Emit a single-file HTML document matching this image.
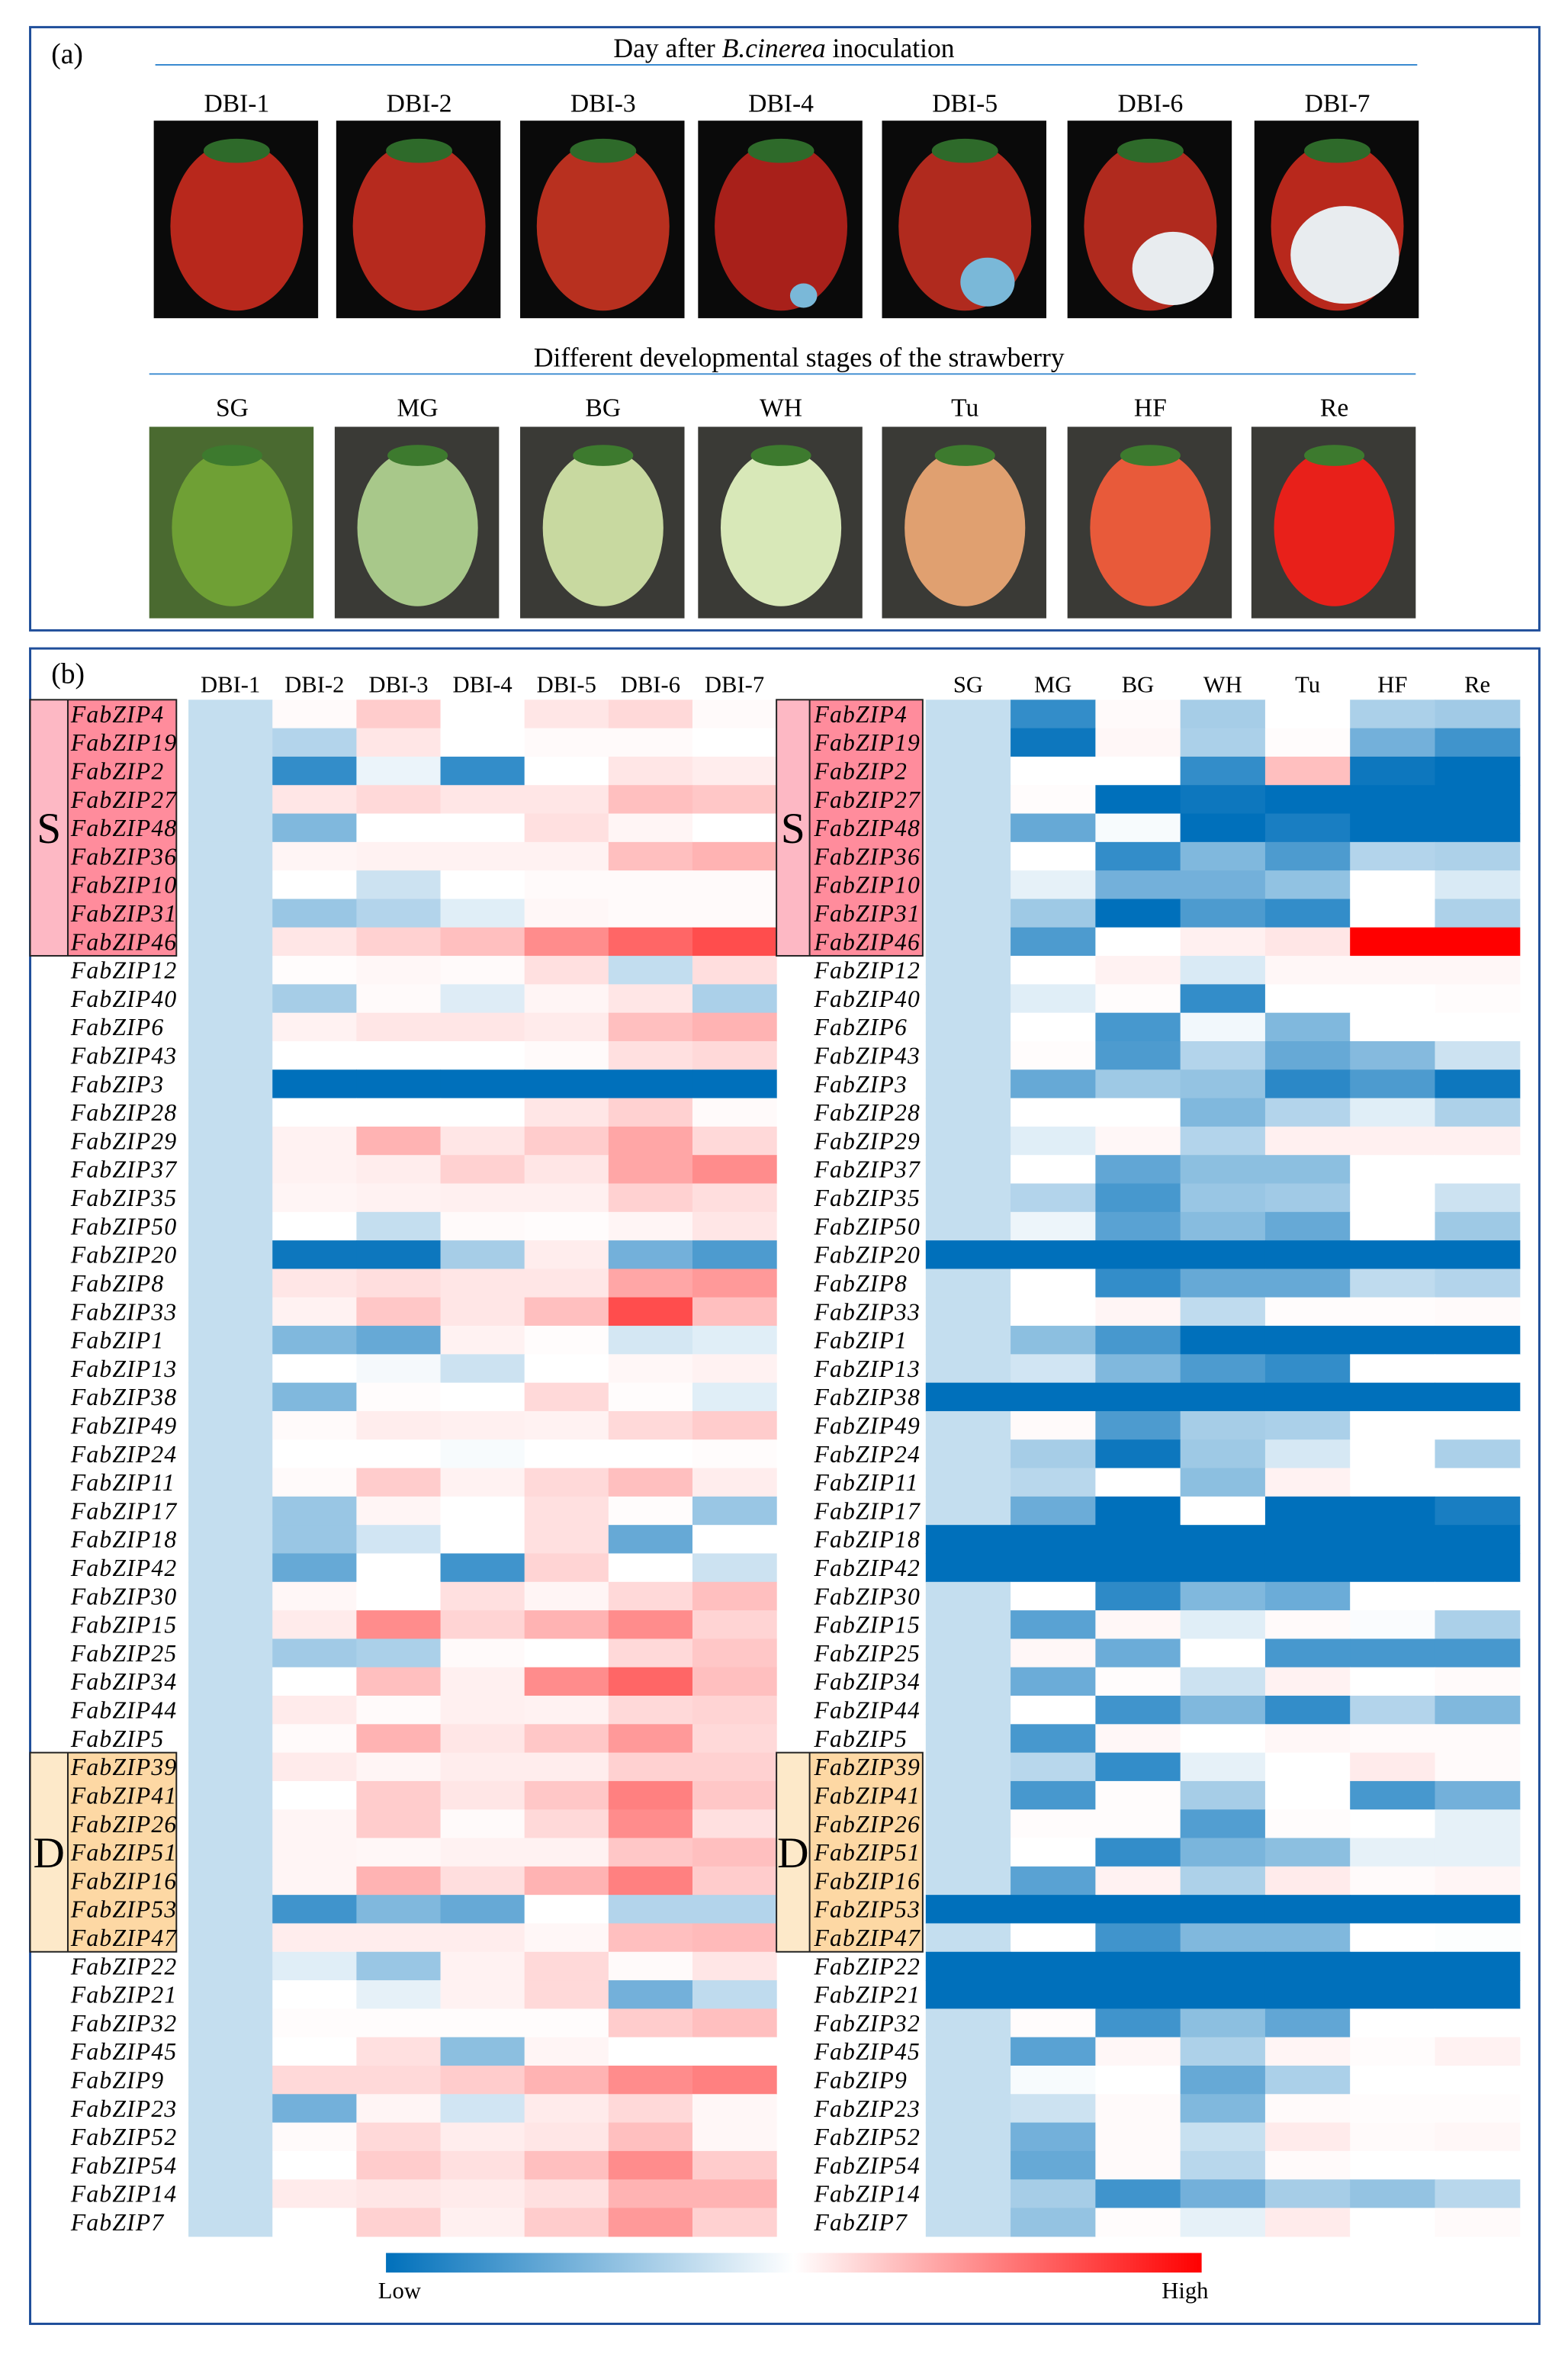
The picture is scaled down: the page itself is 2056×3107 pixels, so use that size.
<!DOCTYPE html>
<html><head><meta charset="utf-8">
<style>
html,body{margin:0;padding:0;background:#fff;}
svg{display:block;}
svg text{font-family:"Liberation Serif","Times New Roman",serif;}
</style></head>
<body>
<svg id="fig" width="2056" height="3107" viewBox="0 0 1040 1571.6" xmlns="http://www.w3.org/2000/svg" font-family="Liberation Serif, serif">
  <rect x="20" y="18" width="1001" height="400" fill="none" stroke="#1f4e9a" stroke-width="1.5"/>
  <text x="34" y="42" font-size="19">(a)</text>
  <text x="520" y="38" font-size="18" text-anchor="middle">Day after <tspan font-style="italic">B.cinerea</tspan> inoculation</text>
  <line x1="103" y1="43" x2="940" y2="43" stroke="#3a8ad0" stroke-width="1"/>
  <text x="530" y="243" font-size="18" text-anchor="middle">Different developmental stages of the strawberry</text>
  <line x1="99" y1="248" x2="939" y2="248" stroke="#3a8ad0" stroke-width="1"/>
  <g id="photos"></g>

  <rect x="20" y="430" width="1001" height="1111" fill="none" stroke="#1f4e9a" stroke-width="1.5"/>
  <text x="34" y="453" font-size="19">(b)</text>
  <g id="heat"></g>

  <defs><linearGradient id="cbar" x1="0" x2="1" y1="0" y2="0">
    <stop offset="0" stop-color="#0070bb"/><stop offset="0.5" stop-color="#ffffff"/><stop offset="1" stop-color="#ff0000"/>
  </linearGradient></defs>
  <rect x="256" y="1494" width="541" height="13" fill="url(#cbar)"/>
  <text x="265" y="1524" font-size="15.5" text-anchor="middle">Low</text>
  <text x="786" y="1524" font-size="15.5" text-anchor="middle">High</text>
</svg>
<script>
const genes=["FabZIP4","FabZIP19","FabZIP2","FabZIP27","FabZIP48","FabZIP36","FabZIP10","FabZIP31","FabZIP46","FabZIP12","FabZIP40","FabZIP6","FabZIP43","FabZIP3","FabZIP28","FabZIP29","FabZIP37","FabZIP35","FabZIP50","FabZIP20","FabZIP8","FabZIP33","FabZIP1","FabZIP13","FabZIP38","FabZIP49","FabZIP24","FabZIP11","FabZIP17","FabZIP18","FabZIP42","FabZIP30","FabZIP15","FabZIP25","FabZIP34","FabZIP44","FabZIP5","FabZIP39","FabZIP41","FabZIP26","FabZIP51","FabZIP16","FabZIP53","FabZIP47","FabZIP22","FabZIP21","FabZIP32","FabZIP45","FabZIP9","FabZIP23","FabZIP52","FabZIP54","FabZIP14","FabZIP7"];
const infectionCols=["DBI-1","DBI-2","DBI-3","DBI-4","DBI-5","DBI-6","DBI-7"];
const stageCols=["SG","MG","BG","WH","Tu","HF","Re"];
const infectionValues=[
[-.23,.02,.2,0,.1,.15,.02],[-.23,-.3,.1,0,.02,.02,0],[-.23,-.8,-.08,-.8,0,.1,.07],[-.23,.1,.15,.1,.1,.25,.22],
[-.23,-.5,0,0,.12,.04,0],[-.23,.04,.05,.05,.05,.25,.3],[-.23,0,-.2,0,.02,.02,.02],[-.23,-.4,-.3,-.12,.03,.02,.02],
[-.23,.1,.18,.25,.45,.6,.7],[-.23,.01,.03,.02,.12,-.24,.13],[-.23,-.35,.02,-.13,.04,.1,-.33],[-.23,.05,.1,.1,.08,.25,.3],
[-.23,0,0,0,.02,.12,.15],[-.23,-1,-1,-1,-1,-1,-1],[-.23,0,0,0,.1,.18,.02],[-.23,.05,.3,.1,.2,.35,.15],
[-.23,.05,.07,.18,.1,.35,.45],[-.23,.04,.05,.06,.06,.18,.13],[-.23,0,-.23,.02,.01,.04,.1],[-.23,-.95,-.95,-.35,.07,-.55,-.7],
[-.23,.1,.13,.1,.1,.35,.4],[-.23,.05,.22,.1,.25,.7,.25],[-.23,-.5,-.6,.05,.01,-.17,-.12],[-.23,0,-.04,-.2,0,.03,.05],
[-.23,-.5,.01,0,.15,.01,-.12],[-.23,.02,.07,.06,.05,.15,.2],[-.23,0,0,-.03,0,0,.01],[-.23,.02,.2,.05,.15,.25,.07],
[-.23,-.4,.04,0,.12,.01,-.4],[-.23,-.4,-.18,0,.12,-.6,0],[-.23,-.6,0,-.75,.17,0,-.2],[-.23,.03,0,.12,.04,.15,.25],
[-.23,.08,.45,.17,.3,.45,.17],[-.23,-.37,-.33,.02,0,.15,.22],[-.23,0,.25,.06,.45,.6,.25],[-.23,.08,.02,.06,.05,.15,.17],
[-.23,.02,.3,.1,.22,.4,.15],[-.23,.08,.04,.07,.07,.18,.18],[-.23,0,.2,.1,.22,.5,.22],[-.23,.04,.2,.02,.15,.45,.12],
[-.23,.04,.03,.05,.05,.22,.25],[-.23,.04,.3,.13,.3,.5,.2],[-.23,-.75,-.5,-.6,0,-.3,-.3],[-.23,.07,.07,.07,.03,.25,.27],
[-.23,-.12,-.4,.05,.15,.02,.1],[-.23,0,-.1,.05,.15,-.55,-.25],[-.23,.01,.01,.01,.01,.2,.25],[-.23,0,.12,-.45,.04,0,0],
[-.23,.15,.15,.2,.3,.45,.5],[-.23,-.55,.04,-.18,.08,.15,.03],[-.23,.02,.15,.07,.1,.25,.03],[-.23,0,.2,.12,.25,.45,.2],
[-.23,.08,.1,.08,.12,.3,.3],[-.23,0,.18,.06,.2,.4,.18]];
const stageValues=[
[-.23,-.8,.02,-.35,0,-.33,-.37],[-.23,-.95,.03,-.33,.01,-.55,-.75],[-.23,0,0,-.8,.25,-.95,-1],[-.23,.01,-1,-.95,-1,-1,-1],
[-.23,-.6,-.03,-1,-.9,-1,-1],[-.23,0,-.8,-.5,-.7,-.3,-.32],[-.23,-.1,-.55,-.55,-.43,0,-.15],[-.23,-.38,-1,-.7,-.8,0,-.32],
[-.23,-.7,0,.06,.1,1,1],[-.23,0,.05,-.15,.03,.03,.03],[-.23,-.12,.01,-.8,0,0,.01],[-.23,0,-.72,-.05,-.5,0,0],
[-.23,.01,-.7,-.3,-.6,-.48,-.2],[-.23,-.6,-.38,-.42,-.83,-.7,-.95],[-.23,0,0,-.5,-.3,-.12,-.32],[-.23,-.12,.03,-.3,.06,.06,.06],
[-.23,0,-.62,-.45,-.45,0,0],[-.23,-.3,-.72,-.4,-.37,0,-.2],[-.23,-.07,-.65,-.47,-.6,0,-.38],[-1,-1,-1,-1,-1,-1,-1],
[-.23,0,-.8,-.6,-.6,-.25,-.3],[-.23,0,.04,-.25,.01,.01,.02],[-.23,-.45,-.72,-1,-1,-1,-1],[-.23,-.18,-.5,-.7,-.8,0,0],
[-1,-1,-1,-1,-1,-1,-1],[-.23,.02,-.7,-.35,-.33,0,0],[-.23,-.35,-.95,-.38,-.16,0,-.33],[-.23,-.28,0,-.45,.05,0,0],
[-.23,-.58,-1,0,-1,-1,-.9],[-1,-1,-1,-1,-1,-1,-1],[-1,-1,-1,-1,-1,-1,-1],[-.23,0,-.82,-.5,-.58,0,0],
[-.23,-.65,.03,-.12,.02,-.02,-.33],[-.23,.03,-.58,0,-.72,-.72,-.72],[-.23,-.58,.01,-.2,.05,0,.02],[-.23,0,-.75,-.5,-.8,-.3,-.5],
[-.23,-.72,.03,0,.03,.02,.02],[-.23,-.28,-.8,-.1,0,.08,.02],[-.23,-.72,.01,-.35,0,-.72,-.55],[-.23,.01,.01,-.68,.01,0,-.1],
[-.23,0,-.8,-.52,-.45,-.1,-.1],[-.23,-.65,.05,-.32,.08,.02,.04],[-1,-1,-1,-1,-1,-1,-1],[-.23,0,-.75,-.5,-.5,0,-.01],
[-1,-1,-1,-1,-1,-1,-1],[-1,-1,-1,-1,-1,-1,-1],[-.23,.01,-.75,-.45,-.62,0,0],[-.23,-.65,.03,-.32,.04,.01,.05],
[-.23,-.03,0,-.6,-.33,0,0],[-.23,-.2,.02,-.5,.02,.01,.01],[-.23,-.55,.02,-.22,.08,.02,.03],[-.23,-.6,.02,-.28,.02,0,0],
[-.23,-.35,-.75,-.55,-.35,-.42,-.28],[-.23,-.42,.01,-.1,.08,0,.02]];
const photoLabelsTop=["DBI-1","DBI-2","DBI-3","DBI-4","DBI-5","DBI-6","DBI-7"];
const photoLabelsBottom=["SG","MG","BG","WH","Tu","HF","Re"];

const NS="http://www.w3.org/2000/svg";
function mk(tag,attrs,parent){const e=document.createElementNS(NS,tag);for(const k in attrs)e.setAttribute(k,attrs[k]);parent.appendChild(e);return e;}
function color(v){
  if(v<0){const t=Math.min(1,-v);return `rgb(${Math.round(255*(1-t))},${Math.round(255-(255-112)*t)},${Math.round(255-(255-187)*t)})`;}
  const t=Math.min(1,v);return `rgb(255,${Math.round(255*(1-t))},${Math.round(255*(1-t))})`;
}
const top0=464, rowH=(1483-464)/genes.length;
function yScale(i){return top0+i*rowH;}
const heat=document.getElementById('heat');

function drawHeat(x0,x1,cols,vals,labelX,boxX,boxW,divX,prefix){
  const cw=(x1-x0)/cols.length;
  const xScale=j=>x0+j*cw;
  const groups=[["S",0,9,"#fdb8c4","#ff8c9c"],["D",37,44,"#fde9c9","#fdd8a4"]];
  groups.forEach(g=>{
    const r1=mk('rect',{x:boxX,y:yScale(g[1]),width:divX-boxX,height:yScale(g[2])-yScale(g[1]),fill:g[3]},heat);
    
    
    const r2=mk('rect',{x:divX,y:yScale(g[1]),width:boxX+boxW-divX,height:yScale(g[2])-yScale(g[1]),fill:g[4]},heat);
    
    
    const b=mk('rect',{x:boxX,y:yScale(g[1]),width:boxW,height:yScale(g[2])-yScale(g[1]),fill:'none',stroke:'#222','stroke-width':1},heat);
    
    
    mk('line',{x1:divX,x2:divX,y1:yScale(g[1]),y2:yScale(g[2]),stroke:'#222','stroke-width':1},heat);
    const t=mk('text',{x:(boxX+divX)/2,y:(yScale(g[1])+yScale(g[2]))/2+10,'font-size':29,'text-anchor':'middle'},heat);
    t.textContent=g[0];
    
    
  });
  cols.forEach((c,j)=>{
    const t=mk('text',{x:xScale(j)+cw/2,y:459,'font-size':15.5,'text-anchor':'middle'},heat);
    t.textContent=c;
    
    
  });
  genes.forEach((g,i)=>{
    const t=mk('text',{x:labelX,y:yScale(i)+rowH/2+5.5,'font-size':16,'font-style':'italic','letter-spacing':'0.6'},heat);
    t.textContent=g;
    
    
    vals[i].forEach((v,j)=>{
      const r=mk('rect',{x:xScale(j),y:yScale(i),width:cw+0.3,height:rowH+0.3,fill:color(v)},heat);
      
      
    });
  });
}
drawHeat(125,515,infectionCols,infectionValues,47,20,97,45,'infection');
drawHeat(614,1008,stageCols,stageValues,540,515,97,537,'stage');

const ph=document.getElementById('photos');
const topX=[102,223,345,463,585,708,832], botX=[99,222,345,463,585,708,830];
const fruitTop=["#b8281c","#b62a1e","#b8301f","#a8201a","#b02a1e","#b02a1e","#b8281c"];
const fruitBot=["#6fa035","#a8c88a","#c8d9a0","#d8e8b8","#e0a070","#e85a3a","#e8201a"];
photoLabelsTop.forEach((l,i)=>{
  const x=topX[i];
  const t=mk('text',{x:x+55,y:74,'font-size':17,'text-anchor':'middle'},ph);t.textContent=l;
  
  
  const r=mk('rect',{x:x,y:80,width:109,height:131,fill:'#0a0a0a'},ph);
  
  
  mk('ellipse',{cx:x+55,cy:150,rx:44,ry:56,fill:fruitTop[i]},ph);
  mk('ellipse',{cx:x+55,cy:100,rx:22,ry:8,fill:'#2e6a2a'},ph);
  if(i>=3){const s=(i-2)*9;mk('ellipse',{cx:x+60+(i>5?0:10),cy:205-s,rx:s,ry:s*0.9,fill:i>=5?'#e8ecef':'#7ab8d8'},ph);}
});
photoLabelsBottom.forEach((l,i)=>{
  const x=botX[i];
  const t=mk('text',{x:x+55,y:276,'font-size':17,'text-anchor':'middle'},ph);t.textContent=l;
  
  
  const r=mk('rect',{x:x,y:283,width:109,height:127,fill:i==0?'#4a6a30':'#3a3a36'},ph);
  
  
  mk('ellipse',{cx:x+55,cy:350,rx:40,ry:52,fill:fruitBot[i]},ph);
  mk('ellipse',{cx:x+55,cy:302,rx:20,ry:7,fill:'#3d7a2e'},ph);
});
</script>
</body></html>
